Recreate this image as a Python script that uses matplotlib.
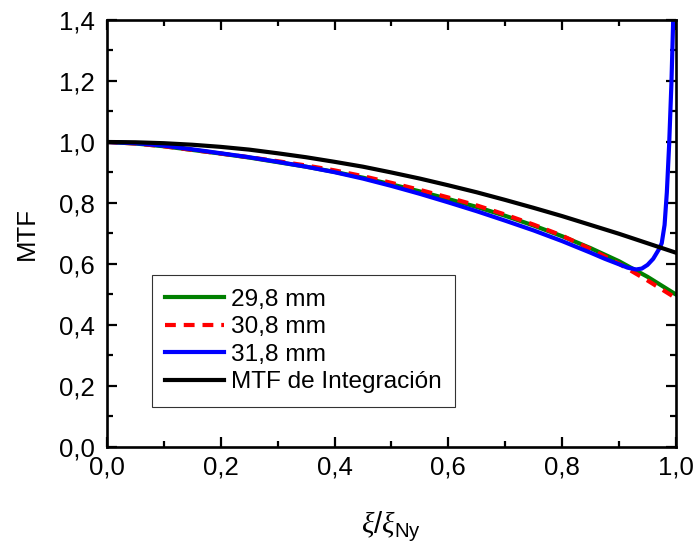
import matplotlib
matplotlib.use("Agg")
import matplotlib.pyplot as plt
from matplotlib.ticker import MultipleLocator, FuncFormatter

plt.rcParams['font.family'] = ['Liberation Sans', 'DejaVu Sans']
plt.rcParams['mathtext.fontset'] = 'custom'
plt.rcParams['mathtext.rm'] = 'Liberation Sans'
plt.rcParams['mathtext.it'] = 'Liberation Serif:italic'

# ---- data ----
x_grid = [0.00, 0.05, 0.10, 0.15, 0.20, 0.25, 0.30, 0.35, 0.40, 0.45, 0.50,
          0.55, 0.60, 0.65, 0.70, 0.75, 0.80, 0.85, 0.90, 0.95, 1.00]

mtf_298 = [1.000, 0.995, 0.986, 0.974, 0.962, 0.949, 0.934, 0.919, 0.902, 0.883, 0.861,
           0.838, 0.813, 0.787, 0.758, 0.726, 0.691, 0.652, 0.609, 0.558, 0.500]

mtf_308 = [1.000, 0.995, 0.986, 0.974, 0.962, 0.950, 0.937, 0.923, 0.907, 0.888, 0.866,
           0.843, 0.818, 0.792, 0.762, 0.729, 0.693, 0.649, 0.601, 0.546, 0.488]

x_318 = [0.00, 0.05, 0.10, 0.15, 0.20, 0.25, 0.30, 0.35, 0.40, 0.45, 0.50,
         0.55, 0.60, 0.65, 0.70, 0.75, 0.80, 0.85, 0.875, 0.90, 0.915, 0.93,
         0.94, 0.95, 0.96, 0.97, 0.975, 0.98, 0.984, 0.988, 0.992, 0.995, 0.998]
mtf_318 = [1.000, 0.996, 0.988, 0.976, 0.963, 0.950, 0.935, 0.919, 0.901, 0.880, 0.856,
           0.830, 0.802, 0.773, 0.742, 0.710, 0.675, 0.637, 0.617, 0.599, 0.588, 0.582,
           0.585, 0.597, 0.617, 0.648, 0.668, 0.728, 0.835, 0.990, 1.190, 1.390, 1.600]

mtf_integ = [1.000, 0.999, 0.996, 0.991, 0.984, 0.975, 0.963, 0.950, 0.935, 0.919, 0.900,
             0.880, 0.858, 0.835, 0.810, 0.784, 0.757, 0.728, 0.699, 0.668, 0.637]

labels = ["29,8 mm", "30,8 mm", "31,8 mm", "MTF de Integración"]
colors = ["#008000", "#ff0000", "#0000ff", "#000000"]

fig = plt.figure(figsize=(6.94, 5.43), dpi=100)
ax = fig.add_axes([0.154, 0.1768, 0.820, 0.7864])

lw = 3.0
ax.plot(x_grid, mtf_298, color=colors[0], lw=lw, label=labels[0])
ax.plot(x_grid, mtf_308, color=colors[1], lw=lw, label=labels[1], dashes=(2.6, 1.9))
ax.plot(x_318, mtf_318, color=colors[2], lw=lw, label=labels[2])
ax.plot(x_grid, mtf_integ, color=colors[3], lw=lw, label=labels[3])

ax.set_xlim(0, 1.0)
ax.set_ylim(0, 1.4)

ax.xaxis.set_major_locator(MultipleLocator(0.2))
ax.xaxis.set_minor_locator(MultipleLocator(0.1))
ax.yaxis.set_major_locator(MultipleLocator(0.2))
ax.yaxis.set_minor_locator(MultipleLocator(0.1))
fmt = FuncFormatter(lambda v, p: f"{v:.1f}".replace('.', ','))
ax.xaxis.set_major_formatter(fmt)
ax.yaxis.set_major_formatter(fmt)

ax.tick_params(which='both', direction='in', top=True, right=True, width=1.6)
ax.tick_params(which='major', length=7, labelsize=18.5)
ax.tick_params(axis='x', which='major', pad=6)
ax.tick_params(axis='y', which='major', pad=9)
ax.tick_params(which='minor', length=4)
for s in ax.spines.values():
    s.set_linewidth(1.9)

ax.set_ylabel("MTF", fontsize=18.5, labelpad=14)
ax.set_xlabel(r"$\xi/\xi_{\mathrm{Ny}}$", fontsize=21, labelpad=22)

leg = ax.legend(loc='lower left', bbox_to_anchor=(0.0786, 0.0944), borderaxespad=0,
                fontsize=17.6, frameon=True, fancybox=False, handlelength=2.4,
                handletextpad=0.3, labelspacing=0.22, borderpad=0.55)
leg.get_frame().set_edgecolor('black')
leg.get_frame().set_linewidth(0.8)

fig.savefig("out.png", dpi=100)
